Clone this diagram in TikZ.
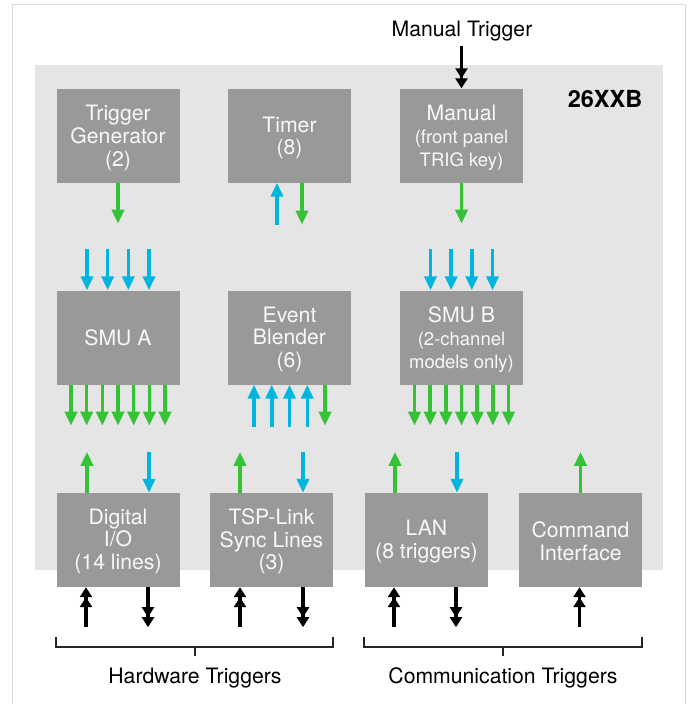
\documentclass[tikz,border=0pt]{standalone}
\usepackage{fontspec}
\setmainfont{TeX Gyre Heros}
\usetikzlibrary{arrows.meta}
\definecolor{panelgray}{HTML}{E5E5E5}
\definecolor{boxgray}{HTML}{999999}
\definecolor{boxtext}{HTML}{F8F8F8}
\definecolor{tgreen}{HTML}{36C236}
\definecolor{tblue}{HTML}{00B6DE}
\definecolor{framegray}{HTML}{DADADA}
\newcommand{\subfnt}{\fontsize{18.5}{22}\selectfont}
\begin{document}
\begin{tikzpicture}[x=1pt,y=-1pt,
  box/.style={fill=boxgray,minimum width=123pt,minimum height=94pt,inner sep=0pt},
  boxtxt/.style={inner sep=0pt,text=boxtext,align=center,font=\fontsize{21.2}{22.8}\selectfont},
  lbl/.style={inner sep=0pt,text=black,font=\fontsize{21.2}{22.8}\selectfont},
  garrow/.style={draw=tgreen,line width=3.5pt,-{Triangle[width=12pt,length=14pt]}},
  barrow/.style={draw=tblue,line width=3.5pt,-{Triangle[width=12pt,length=14pt]}},
  karrow/.style={draw=black,line width=3.3pt,
    -{Triangle[width=12pt,length=10pt]Triangle[width=12pt,length=10pt]}},
  bracket/.style={draw=black!85,line width=2pt}
]
\useasboundingbox (0,0) rectangle (690,704);
% outer frame
\draw[framegray,line width=1pt] (12,710) -- (12,4) -- (685,4) -- (685,710);
% panel
\fill[panelgray] (35,65) rectangle (663,570);
\node[inner sep=0pt,font=\bfseries\fontsize{23.5}{26}\selectfont] (model) at (605,99) {26XXB};

% row 1
\node[box] (tg) at (118,135.5) {};
\node[box] (timer) at (289.5,135.5) {};
\node[box] (manual) at (461.5,135.5) {};
% row 2
\node[box] (smua) at (118,337.5) {};
\node[box] (eb) at (289.5,337.5) {};
\node[box] (smub) at (461.5,337.5) {};
% row 3
\node[box] (dio) at (118,540) {};
\node[box] (tsp) at (271.5,540) {};
\node[box] (lan) at (426.5,540) {};
\node[box] (cmd) at (580.5,540) {};

% box texts
\node[boxtxt] (tgt) at ([yshift=-2.5pt]tg.center) {Trigger\\Generator\\(2)};
\node[boxtxt] (timert) at ([yshift=-2.5pt]timer.center) {Timer\\(8)};
\node[boxtxt] (manualt) at ([yshift=-2pt]manual.center) {Manual\\\subfnt (front panel\\\subfnt TRIG key)};
\node[boxtxt] (smuat) at (smua.center) {SMU A};
\node[boxtxt] (ebt) at ([yshift=-2pt]eb.center) {Event\\Blender\\(6)};
\node[boxtxt] (smubt) at ([yshift=-2pt]smub.center) {SMU B\\\subfnt (2-channel\\\subfnt models only)};
\node[boxtxt] (diot) at ([yshift=-1.5pt]dio.center) {Digital\\I/O\\(14 lines)};
\node[boxtxt] (tspt) at ([yshift=-1.5pt]tsp.center) {TSP-Link\\Sync Lines\\(3)};
\node[boxtxt] (lant) at ([yshift=-1.5pt]lan.center) {LAN\\(8 triggers)};
\node[boxtxt] (cmdt) at ([yshift=-1.5pt]cmd.center) {Command\\Interface};

% manual trigger
\node[lbl] (mt) at (462,31) {Manual Trigger};
\draw[karrow] (manual.north) ++(0,-42) -- (manual.north);

% row 1 arrows
\draw[garrow] (tg.south) -- ++(0,41);
\draw[barrow] (timer.south) ++(-12.5,42) -- ++(0,-42);
\draw[garrow] (timer.south) ++(12.5,0) -- ++(0,42);
\draw[garrow] (manual.south) -- ++(0,41);

% blue into SMUs
\foreach \dx in {-31,-10.33,10.33,31} {
  \draw[barrow] (smua.north) ++(\dx,-41) -- ++(0,41);
  \draw[barrow] (smub.north) ++(\dx,-41) -- ++(0,41);
}
% green out of SMUs
\foreach \dx in {-47,-31.33,-15.67,0,15.67,31.33,47} {
  \draw[garrow] (smua.south) ++(\dx,0) -- ++(0,41);
  \draw[garrow] (smub.south) ++(\dx,0) -- ++(0,41);
}
% event blender
\foreach \dx in {-35.5,-17.75,0,17.75} {
  \draw[barrow] (eb.south) ++(\dx,42) -- ++(0,-42);
}
\draw[garrow] (eb.south) ++(35.5,0) -- ++(0,41);

% row 3 colored arrows
\draw[garrow] (dio.north) ++(-31,0) -- ++(0,-41);
\draw[barrow] (dio.north) ++(31,-41) -- ++(0,41);
\draw[garrow] (tsp.north) ++(-31.5,0) -- ++(0,-41);
\draw[barrow] (tsp.north) ++(31.5,-41) -- ++(0,41);
\draw[garrow] (lan.north) ++(-31.5,0) -- ++(0,-41);
\draw[barrow] (lan.north) ++(30.5,-41) -- ++(0,41);
\draw[garrow] (cmd.north) -- ++(0,-41);

% bottom black arrows
\draw[karrow] (dio.south) ++(-32,40) -- ++(0,-40);
\draw[karrow] (dio.south) ++(30,0) -- ++(0,40);
\draw[karrow] (tsp.south) ++(-31.5,40) -- ++(0,-40);
\draw[karrow] (tsp.south) ++(31.5,0) -- ++(0,40);
\draw[karrow] (lan.south) ++(-32.5,40) -- ++(0,-40);
\draw[karrow] (lan.south) ++(29.5,0) -- ++(0,40);
\draw[karrow] (cmd.south) ++(-1,40) -- ++(0,-40);

% brackets
\draw[bracket] (56,637) -- (56,647) -- (333,647) -- (333,637);
\draw[bracket] (195,647) -- (195,656);
\draw[bracket] (364,637) -- (364,647) -- (642,647) -- (642,637);
\draw[bracket] (503,647) -- (503,656);
\node[lbl] (hw) at (195,678) {Hardware Triggers};
\node[lbl] (comm) at (503,678) {Communication Triggers};
\end{tikzpicture}
\end{document}
